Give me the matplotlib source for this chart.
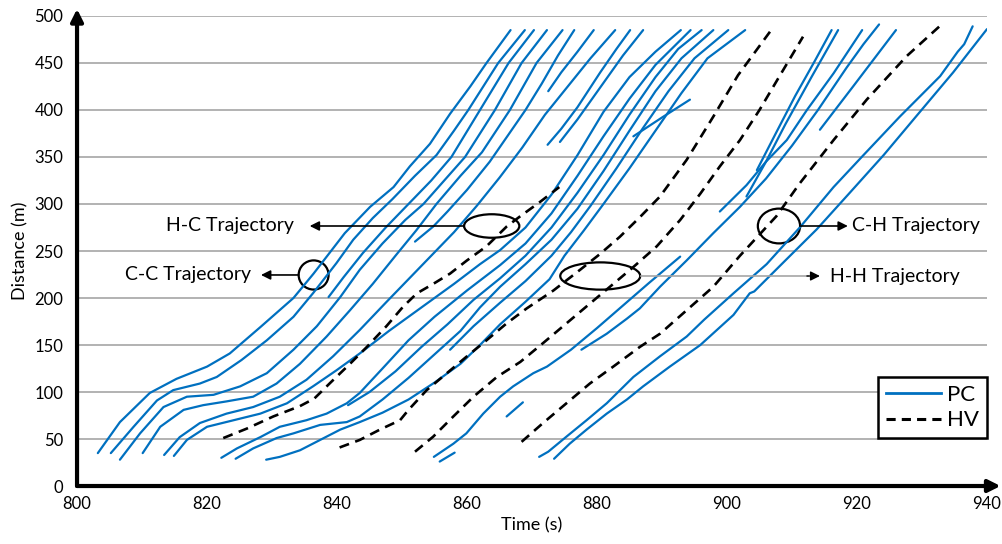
import matplotlib
matplotlib.use("Agg")
import matplotlib.pyplot as plt
from matplotlib.patches import Ellipse
from matplotlib.lines import Line2D

plt.rcParams['font.family'] = ['Lato', 'DejaVu Sans']

# PC (connected vehicle) trajectories: (time s, distance m)
pc01 = [(803.2, 35), (806.6, 68), (811.2, 99), (815.3, 114), (820, 127), (823.5, 141), (828.2, 169),
        (833.3, 200), (836.4, 226), (841.2, 269), (845.1, 297), (848.7, 318), (851.2, 340), (854.3, 364),
        (857.4, 396), (860.5, 425), (863, 450), (866.7, 485)]
pc02 = [(805.2, 35), (808.7, 63), (812.3, 91), (814.8, 102), (818.9, 109), (821.5, 116), (825.3, 134),
        (829.2, 155), (833.3, 180), (836.3, 205), (839.9, 237), (842.5, 262), (845.5, 285), (848.5, 305),
        (852, 330), (855.3, 352), (858, 378), (860.2, 400), (864.8, 450), (868.9, 485)]
pc03 = [(838.7, 201), (841, 222), (844, 248), (847.5, 275), (851, 300), (854.5, 325), (857.6, 350),
        (862, 400), (866.4, 450), (870.3, 485)]
pc04 = [(806.6, 28), (809.7, 56), (813.3, 84), (816.9, 95), (821, 97), (825.1, 106), (829.2, 120),
        (833.3, 145), (836.9, 170), (840.5, 201), (843.5, 230), (847, 258), (850.5, 283), (853.3, 300),
        (856.5, 325), (859.7, 350), (864.3, 400), (868.4, 450), (872.3, 485)]
pc05 = [(810.1, 35), (812.8, 63), (816.4, 81), (819.4, 86), (823, 90), (827.1, 95), (830.7, 109),
        (834.3, 130), (838.4, 159), (842, 187), (845.5, 215), (849, 245), (852.2, 272), (855.3, 300),
        (859, 330), (862.3, 355), (866.6, 400), (870.7, 450), (874.7, 485)]
pc06 = [(852, 260), (854.8, 276), (857, 292), (860, 315), (863.5, 345), (866.5, 375), (869, 400),
        (871.5, 428), (874, 458), (876.5, 485)]
pc07 = [(813.4, 33), (815.8, 52), (818.9, 67), (823, 77), (827.1, 84), (831.2, 95), (835.3, 113),
        (839.4, 138), (843.5, 166), (847.5, 195), (851, 220), (854.5, 245), (858, 270), (861.5, 298),
        (865, 328), (868.5, 360), (872, 395), (875.5, 425), (879, 455), (882.8, 485)]
pc08 = [(872.5, 420), (874.5, 440), (877, 462), (879.5, 485)]
pc09 = [(872.4, 363), (874.5, 380), (877, 403), (880.5, 440), (883, 465), (885.1, 485)]
pc10 = [(874.3, 366), (877, 390), (880.5, 424), (884, 458), (887.1, 485)]
pc11 = [(814.9, 32), (816.9, 49), (820, 63), (824.1, 70), (828.2, 77), (832.3, 88), (836.3, 106),
        (839.9, 123), (843.5, 141), (848, 165), (853, 190), (858, 215), (862, 236), (865.1, 251),
        (869, 275), (873, 310), (877, 352), (881, 398), (885, 435), (889, 462), (892.9, 485)]
pc12 = [(822.2, 30), (824.6, 40), (828.2, 52), (831.2, 63), (835.3, 70), (838.4, 77), (841.5, 88),
        (843.5, 99), (847, 125), (851, 155), (855, 180), (860, 208), (865.1, 235), (869, 258),
        (873, 290), (877, 330), (881, 372), (885, 412), (889, 448), (894.4, 485)]
pc13 = [(841.7, 86), (845, 100), (849, 122), (853, 148), (857, 172), (861, 198), (865.1, 221),
        (869, 245), (873, 275), (877, 312), (881, 352), (885, 395), (889, 435), (892.5, 465), (896.1, 485)]
pc14 = [(824.4, 29), (827.1, 40), (830.7, 51), (833.3, 56), (837.4, 65), (841.5, 68), (843.5, 74),
        (847, 92), (851, 115), (855, 140), (859, 165), (862, 190), (865.1, 212), (869, 236), (873, 262),
        (877, 295), (881, 335), (885, 378), (889, 420), (893, 455), (897.9, 485)]
pc15 = [(857.4, 145), (861, 170), (865.1, 195), (869, 218), (873, 245), (876, 270), (879, 298),
        (883, 338), (887, 380), (891, 420), (895, 455), (900.2, 485)]
pc16 = [(829.1, 28), (831.2, 31), (834.3, 38), (837.4, 49), (840.5, 60), (843.5, 68), (847, 78),
        (851, 92), (855, 110), (859, 130), (862, 150), (865.1, 172), (869, 196), (872.7, 220), (875, 245),
        (878, 272), (881, 300), (885, 338), (889, 378), (893, 418), (897, 455), (902.8, 485)]
pc17 = [(854.9, 31), (857.9, 45), (859.9, 56), (862.5, 77), (865.1, 95), (867.1, 106), (870.2, 120),
        (872.3, 127), (876, 145), (880, 168), (884, 192), (888, 216), (892.8, 244)]
pc18 = [(855.8, 26), (858.1, 35.5)]
pc19 = [(866.1, 74), (868.6, 89)]
pc20 = [(885.6, 372), (890, 392), (894.3, 411)]
pc21 = [(871.1, 31), (872.5, 36.5), (875.3, 52.5), (878.4, 70), (881.5, 88), (885.6, 116), (889.7, 138),
        (893.8, 159), (896.5, 177), (901, 205), (906.1, 236), (911.2, 275), (916.4, 318), (921, 352),
        (926.6, 393), (932.8, 436), (935.5, 462), (936.5, 470), (937.8, 489)]
pc22 = [(873.4, 29), (875.8, 45), (878.4, 60), (881.5, 77), (884.6, 92), (887.1, 106), (891.2, 127),
        (895.9, 150), (901, 182), (903.5, 205), (904.2, 207), (908.7, 238), (913.8, 273), (918.9, 312),
        (924.1, 352), (929.2, 394), (934.8, 440), (940, 486)]
pc23 = [(877.6, 145), (881.5, 162), (884.6, 178), (886.6, 189), (889.7, 212), (893.8, 240), (897.9, 269),
        (902, 297), (906, 327), (910, 362), (914, 400), (918.4, 445), (921, 470), (923.4, 491)]
pc24 = [(898.9, 292), (903, 320), (906, 345), (909.2, 368), (912.3, 400), (916.4, 439), (920.8, 485)]
pc25 = [(903, 308), (906, 345), (909, 385), (913, 435), (917.1, 485)]
pc26 = [(904.6, 336), (907.5, 375), (910.5, 415), (913.5, 452), (916.1, 485)]
pc27 = [(914.3, 379), (919.4, 425), (926, 485)]

# HV (human-driven vehicle) trajectories
hv01 = [(822.5, 51), (826.1, 61), (830.2, 74), (834.3, 85), (836.5, 93), (839, 110), (842, 130),
        (844.6, 148), (847.6, 170), (850.2, 191), (852.3, 205), (854.8, 215), (857.4, 226), (860, 240),
        (863, 255), (866.1, 276), (868.2, 287), (871.2, 302), (874.2, 318)]
hv02 = [(840.4, 41), (843.5, 49), (846.6, 60), (849.7, 70), (851, 81), (853.8, 102), (856.9, 120),
        (860, 138), (863, 155), (866.1, 173), (869.2, 189), (873.3, 208), (877.4, 230), (880.5, 247),
        (883.5, 265), (886.6, 286), (889.7, 308), (893.8, 347), (897.9, 393), (901.7, 437), (906.8, 485)]
hv03 = [(852, 36.5), (854.8, 52.5), (857.9, 74), (861, 95), (864.6, 116), (868.2, 132), (871.7, 152),
        (875.3, 173), (878.9, 194), (882, 212), (885.6, 233), (889.2, 255), (892.8, 283), (895.9, 311),
        (898.9, 340), (902, 368), (905, 400), (908, 435), (911.7, 478)]
hv04 = [(868.4, 47), (871.7, 67), (875.3, 88), (878.9, 109), (882.5, 127), (886.6, 148), (889.7, 162),
        (893.8, 187), (897.9, 212), (902, 245), (907.6, 287), (911.2, 322), (916.4, 368), (921.5, 411),
        (927.6, 457), (932.7, 489)]

pc_list = [pc01, pc02, pc03, pc04, pc05, pc06, pc07, pc08, pc09, pc10, pc11, pc12, pc13, pc14,
           pc15, pc16, pc17, pc18, pc19, pc20, pc21, pc22, pc23, pc24, pc25, pc26, pc27]
hv_list = [hv01, hv02, hv03, hv04]

x_ticks = [800, 820, 840, 860, 880, 900, 920, 940]
y_ticks = [0, 50, 100, 150, 200, 250, 300, 350, 400, 450, 500]

blue = '#0070C0'

fig = plt.figure(figsize=(10.03, 5.44), dpi=100)
ax = fig.add_axes([0.0768, 0.1066, 0.9072, 0.864])

for tr in pc_list:
    ax.plot([p[0] for p in tr], [p[1] for p in tr], color=blue, lw=1.6, solid_capstyle='round')
for tr in hv_list:
    ax.plot([p[0] for p in tr], [p[1] for p in tr], color='black', lw=1.9, dashes=(3.8, 2.5))

ax.set_xlim(800, 940)
ax.set_ylim(0, 500)
ax.set_xticks(x_ticks)
ax.set_yticks(y_ticks)
ax.tick_params(length=0, labelsize=12)
ax.tick_params(axis='y', pad=10)
ax.tick_params(axis='x', pad=7)
ax.yaxis.grid(True, color='#a6a6a6', lw=1.2)
ax.set_axisbelow(True)
for s in ax.spines.values():
    s.set_visible(False)

ax.annotate('', xy=(1.015, 0), xytext=(0, 0), xycoords='axes fraction',
            arrowprops=dict(arrowstyle='-|>', lw=3, color='black', mutation_scale=18, shrinkA=0, shrinkB=0))
ax.annotate('', xy=(0, 1.015), xytext=(0, 0), xycoords='axes fraction',
            arrowprops=dict(arrowstyle='-|>', lw=3, color='black', mutation_scale=18, shrinkA=0, shrinkB=0))

ax.set_xlabel('Time (s)', fontsize=13, labelpad=4)
ax.set_ylabel('Distance (m)', fontsize=13, labelpad=4)

# annotations
ax.add_patch(Ellipse((863.8, 276.6), 8.5, 25, fill=False, ec='black', lw=1.6))
ax.annotate('', xy=(835.8, 276.6), xytext=(859.6, 276.6),
            arrowprops=dict(arrowstyle='-|>', lw=1.2, color='black', mutation_scale=14, shrinkA=0, shrinkB=0))
ax.text(823.5, 276.6, 'H-C Trajectory', fontsize=14, ha='center', va='center')

ax.add_patch(Ellipse((836.4, 224.5), 4.6, 31, fill=False, ec='black', lw=1.6))
ax.annotate('', xy=(828.3, 224.5), xytext=(834.1, 224.5),
            arrowprops=dict(arrowstyle='-|>', lw=1.2, color='black', mutation_scale=14, shrinkA=0, shrinkB=0))
ax.text(817, 224.5, 'C-C Trajectory', fontsize=14, ha='center', va='center')

ax.add_patch(Ellipse((880.5, 223.4), 12.3, 29, fill=False, ec='black', lw=1.6))
ax.plot([886.7, 912.5], [223.4, 223.4], color='#a6a6a6', lw=1.2)
ax.annotate('', xy=(914.3, 223.4), xytext=(912.3, 223.4),
            arrowprops=dict(arrowstyle='-|>', lw=1, color='black', mutation_scale=14, shrinkA=0, shrinkB=0))
ax.text(915.8, 223.4, 'H-H Trajectory', fontsize=14, ha='left', va='center')

ax.add_patch(Ellipse((908, 276.6), 6.5, 37, fill=False, ec='black', lw=1.6))
ax.annotate('', xy=(918.6, 276.6), xytext=(911.2, 276.6),
            arrowprops=dict(arrowstyle='-|>', lw=1.2, color='black', mutation_scale=14, shrinkA=0, shrinkB=0))
ax.text(919.2, 276.6, 'C-H Trajectory', fontsize=14, ha='left', va='center')

handles = [Line2D([], [], color=blue, lw=2),
           Line2D([], [], color='black', lw=2.2, dashes=(3, 2))]
leg = ax.legend(handles, ['PC', 'HV'], loc='lower right', bbox_to_anchor=(1.0, 0.102),
                fontsize=16, frameon=True, fancybox=False, handlelength=2.45, borderpad=0.35,
                labelspacing=0.25, handletextpad=0.3, borderaxespad=0)
leg.get_frame().set_edgecolor('black')
leg.get_frame().set_linewidth(1.8)
leg.get_frame().set_alpha(1)

fig.savefig('out.png', dpi=100)
